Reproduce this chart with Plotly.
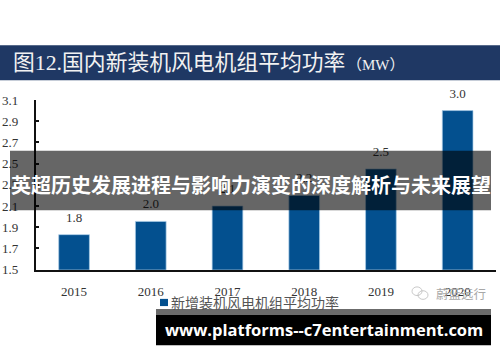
import plotly.graph_objects as go

W, H = 500, 362
years = ["2015", "2016", "2017", "2018", "2019", "2020"]
power = [1.83, 1.955, 2.10, 2.20, 2.45, 3.0]
bar_labels = ["1.8", "2.0", "2.1", "2.2", "2.5", "3.0"]
y_ticks = [1.5, 1.7, 1.9, 2.1, 2.3, 2.5, 2.7, 2.9, 3.1]
series_name = "新增装机风电机组平均功率"
chart_title = "图12.国内新装机风电机组平均功率"
title_unit = "（MW）"
headline = "英超历史发展进程与影响力演变的深度解析与未来展望"
site = "www.platforms--c7entertainment.com"
watermark = "蔚蓝远行"

SERIF = "Liberation Serif, Noto Sans CJK SC"
CJK = "Noto Sans CJK SC"
BLUE = "#03508F"
INK = "#333333"

def px(x):
    return x / W

def py(y):
    return 1 - y / H

fig = go.Figure(go.Bar(
    x=years, y=power,
    marker=dict(color=BLUE, line=dict(color="#A9CBE6", width=0.7)),
    width=0.4, cliponaxis=False, showlegend=False, hoverinfo="skip",
))
fig.add_trace(go.Scatter(
    x=years, y=power, text=bar_labels, mode="markers+text",
    textposition="top center",
    textfont=dict(family=SERIF, size=13, color=INK),
    marker=dict(size=14, color="rgba(0,0,0,0)"),
    cliponaxis=False, showlegend=False, hoverinfo="skip",
))

def rect(x0, y0, x1, y1, color, opacity=1.0, layer="above"):
    return dict(type="rect", xref="paper", yref="paper", x0=px(x0), x1=px(x1),
                y0=py(y1), y1=py(y0), fillcolor=color, opacity=opacity,
                line_width=0, layer=layer)

def circle(x0, y0, x1, y1):
    return dict(type="circle", xref="paper", yref="paper", x0=px(x0), x1=px(x1),
                y0=py(y1), y1=py(y0), fillcolor="rgba(0,0,0,0)",
                line=dict(color="#BBBBBB", width=0.8), layer="above")

shapes = [
    rect(0, 40, 500, 76.5, "#1F3864", layer="below"),
    rect(160, 304.5, 168, 312, BLUE, layer="below"),
    circle(412, 292, 422, 301),
    circle(418, 296, 428, 305),
    rect(10, 150, 491, 212, "#000000", 0.6),
    rect(156, 315, 491, 321, "#6B6B6B"),
    rect(156, 321, 491, 353, "#000000"),
]

def note(x, y, text, size, color, family=CJK, anchor="left"):
    return dict(xref="paper", yref="paper", x=px(x), y=py(y), text=text,
                showarrow=False, xanchor=anchor, yanchor="middle",
                font=dict(family=family, size=size, color=color))

annotations = [
    note(11, 58, chart_title, 21.8, "#F2F2F2", SERIF),
    note(345, 60, title_unit, 15, "#F2F2F2", SERIF),
    note(169, 308, series_name, 14, "#555555"),
    note(434, 299, watermark, 12.5, "#A8A8A8"),
    note(250.5, 185, "<b>" + headline + "</b>", 20, "#FFFFFF", CJK, "center"),
    note(323.5, 336, "<b>" + site + "</b>", 16.5, "#FFFFFF", "Open Sans", "center"),
]

fig.update_layout(
    width=W, height=H, margin=dict(l=0, r=0, t=0, b=0), autosize=False,
    paper_bgcolor="#FFFFFF", plot_bgcolor="#FFFFFF", showlegend=False,
    shapes=shapes, annotations=annotations,
    xaxis=dict(domain=[px(35.7), px(496)], type="category", showgrid=False,
               showline=True, linecolor="#111111", linewidth=1.5, ticks="",
               ticklabelstandoff=9,
               tickfont=dict(family=SERIF, size=13, color=INK)),
    yaxis=dict(domain=[py(274), py(97)], range=[1.5, 3.1], tickvals=y_ticks,
               tickformat=".1f", showgrid=False, zeroline=False, showline=True,
               linecolor="#111111", linewidth=1.5, ticks="inside", ticklen=4,
               tickcolor="#111111", tickwidth=1.5, ticklabelstandoff=13,
               tickfont=dict(family=SERIF, size=13, color=INK)),
)

fig.write_html("out.html", config={"displayModeBar": False},
               post_script="document.body.style.margin='0';")
